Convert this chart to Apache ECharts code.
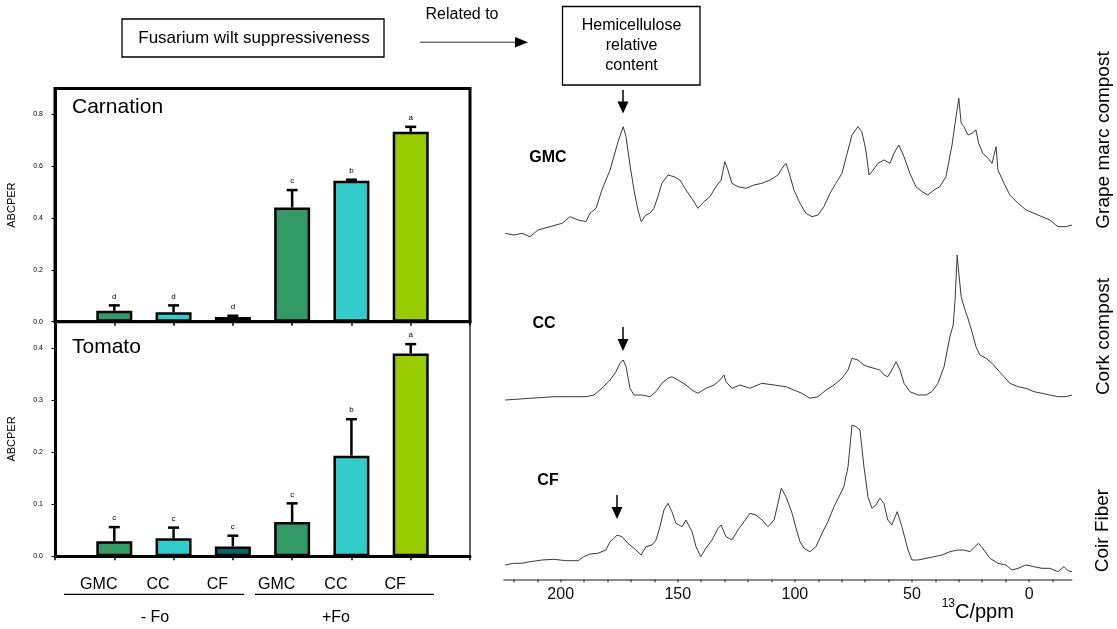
<!DOCTYPE html>
<html>
<head>
<meta charset="utf-8">
<script src="https://cdn.jsdelivr.net/npm/echarts@6/dist/echarts.min.js"></script>
<style>
html,body{margin:0;padding:0;background:#fff;}
#chart{width:1117px;height:629px;}
</style>
</head>
<body>
<div id="chart"></div>
<script>
// ---------- DATA ----------
const composts = ['GMC', 'CC', 'CF', 'GMC', 'CC', 'CF'];
const groupLabels = ['- Fo', '+Fo'];
const barColors = ['#339966', '#33CCCC', '#006666', '#339966', '#33CCCC', '#99CC00'];

const carnationMean = [0.042, 0.036, 0.018, 0.441, 0.544, 0.733];
const carnationErr = [0.021, 0.027, 0.005, 0.067, 0.004, 0.019];
const carnationLetters = ['d', 'd', 'd', 'c', 'b', 'a'];

const tomatoMean = [0.029, 0.0345, 0.019, 0.066, 0.193, 0.389];
const tomatoErr = [0.027, 0.0205, 0.0205, 0.0356, 0.070, 0.018];
const tomatoLetters = ['c', 'c', 'c', 'c', 'b', 'a'];

const carnationTicks = [0, 0.2, 0.4, 0.6, 0.8];
const tomatoTicks = [0, 0.1, 0.2, 0.3, 0.4];
const ppmLabels = [0, 50, 100, 150, 200];

const spectrumNames = ['GMC', 'CC', 'CF'];
const spectrumTitles = ['Grape marc compost', 'Cork compost', 'Coir Fiber'];

// [ppm, relative intensity]
const gmcSpectrum = [[223.7,41.7],[220.0,40],[216.5,41.7],[213.1,38.3],[209.7,45],[204.6,48.3],[199.4,51.7],[196.0,58.3],[192.6,55],[189.2,53.3],[187.5,61.7],[184.9,66.7],[182.4,85],[180.7,95],[178.9,105],[177.3,118.3],[175.5,133.3],[173.3,148.3],[172.1,138.3],[170.4,110],[168.7,85],[167.0,65],[165.6,53.3],[163.6,60],[161.9,61.7],[160.2,66.7],[158.5,78.3],[156.8,91.7],[154.2,100],[151.6,98.3],[149.1,95],[146.5,85],[144.0,76.7],[141.4,66.7],[138.8,73.3],[136.3,78.3],[133.7,88.3],[131.5,95],[129.9,113.3],[128.6,105],[126.9,91.7],[124.3,88.3],[120.9,86.7],[117.5,90],[114.1,91.7],[110.6,95],[107.2,100],[105.5,106.7],[103.8,111.7],[102.4,101.7],[100.4,85],[97.8,71.7],[95.3,61.7],[92.7,58.3],[90.1,60],[87.6,68.3],[85.0,81.7],[82.5,91.7],[79.9,101.7],[77.3,125],[75.6,140],[73.1,148.3],[71.4,143.3],[69.7,125],[68.3,100],[66.6,105],[64.5,111.7],[62.0,115],[59.4,111.7],[57.7,121.7],[55.6,130],[53.4,118.3],[50.9,101.7],[48.3,88.3],[45.7,83.3],[43.2,80],[40.6,85],[38.1,88.3],[35.5,98.3],[32.9,130],[31.6,151.7],[30.0,176.7],[29.0,151.7],[27.8,148.3],[26.1,140],[24.4,141.7],[22.7,145],[21.5,131.7],[19.8,121.7],[17.5,116.7],[15.8,111.7],[14.1,128.3],[13.3,105],[10.7,91.7],[8.2,80],[4.7,71.7],[1.3,65],[-2.1,61.7],[-5.5,58.3],[-8.9,55],[-12.3,48.3],[-15.8,48.3],[-18.3,50]];

const ccSpectrum = [[223.7,15],[213.1,16.7],[202.9,18.3],[196.0,18.3],[189.2,18.3],[185.8,20],[182.4,26.7],[178.9,35],[176.4,43.3],[174.7,51.7],[173.3,55],[172.1,48.3],[170.4,26.7],[168.7,20],[165.3,20],[161.9,18.3],[159.3,23.3],[156.8,31.7],[154.2,36.7],[152.5,38.3],[149.9,35],[146.5,30],[144.0,25],[141.4,21.7],[138.0,26.7],[134.5,30],[132.0,35],[130.3,40],[129.4,33.3],[126.9,26.7],[123.4,30],[119.2,26.7],[114.1,31.7],[108.9,30],[103.8,28.3],[100.4,25],[97.0,21.7],[93.6,16.7],[90.1,18.3],[86.7,25],[83.3,30],[79.9,36.7],[77.3,45],[75.6,56.7],[73.1,55],[70.5,50],[68.8,48.3],[66.2,46.7],[63.7,45],[61.9,40],[60.3,38.3],[58.6,45],[56.8,53.3],[55.1,45],[53.4,31.7],[50.9,23.3],[47.4,20],[44.0,20],[41.5,23.3],[38.9,31.7],[36.3,48.3],[33.8,78.3],[32.4,90],[31.6,115],[30.7,160],[30.0,141.7],[29.0,118.3],[27.8,108.3],[26.1,96.7],[24.4,83.3],[22.7,68.3],[21.0,60],[18.4,56.7],[15.8,51.7],[13.3,45],[10.7,38.3],[8.2,31.7],[4.7,28.3],[1.3,26.7],[-2.1,23.3],[-5.5,21.7],[-8.9,20],[-12.3,18.3],[-15.8,18.3],[-18.3,20]];

const cfSpectrum = [[223.7,10],[220.0,11.7],[216.5,11.7],[213.1,13.3],[208.0,15],[202.9,15.7],[197.8,14.3],[192.6,14.3],[190.1,18.3],[187.5,21],[184.1,21.7],[180.7,25],[178.9,33.3],[177.3,36.7],[175.9,40],[173.8,38.3],[171.3,31.7],[168.7,26.7],[165.6,20],[163.6,28.3],[161.0,30],[159.3,35],[157.6,48.3],[155.9,65],[154.2,71.7],[152.5,63.3],[150.8,51.7],[148.2,48.3],[146.5,55],[145.7,56.7],[143.9,43.3],[142.2,28.3],[140.2,18.3],[138.0,26.7],[135.4,35],[132.8,46.7],[131.5,50],[129.4,38.3],[126.9,35],[124.3,45],[121.7,53.3],[119.2,61.7],[116.6,60],[114.0,55],[111.5,48.3],[108.9,55],[107.2,71.7],[105.8,86.7],[103.8,78.3],[101.2,61.7],[99.5,46.7],[97.8,33.3],[96.1,26.7],[93.6,23.3],[91.0,28.3],[88.4,41.7],[85.9,53.3],[83.3,68.3],[80.8,80],[79.1,88.3],[77.3,108.3],[75.6,150],[73.9,148.3],[72.2,145],[70.5,108.3],[68.8,78.3],[67.1,66.7],[65.4,70],[63.7,76.7],[62.0,71.7],[60.3,55],[58.6,50],[56.3,63.3],[54.3,48.3],[51.7,25],[50.0,15],[47.4,15],[44.0,16.7],[40.6,18.3],[37.2,20],[33.8,23.3],[30.4,25],[27.8,25],[25.2,23.3],[23.2,28.3],[21.5,31.7],[19.3,25],[16.7,16.7],[13.3,11.7],[9.9,10],[7.3,5],[4.7,6.7],[1.3,10],[-2.1,8.3],[-5.5,6.7],[-8.9,6.7],[-12.3,3.3],[-14.9,8.3],[-16.6,4.3],[-18.3,3.3]];

// ---------- CHART ----------
const FONT = '"Liberation Sans", Arial, Helvetica, sans-serif';
const chart = echarts.init(document.getElementById('chart'), null, {renderer: 'canvas'});

const xPos = composts.map((c, i) => i + 1);

function barData(means) {
  return means.map((m, i) => ({value: [xPos[i], m], itemStyle: {color: barColors[i]}}));
}
function errData(means, errs) {
  return means.map((m, i) => [xPos[i], m, errs[i]]);
}
function errRenderer(letters) {
  return function (params, api) {
    const x = api.value(0), m = api.value(1), e = api.value(2);
    const p0 = api.coord([x, m]);
    const p1 = api.coord([x, m + e]);
    return {
      type: 'group',
      children: [
        {type: 'line', shape: {x1: p0[0], y1: p0[1], x2: p1[0], y2: p1[1]}, style: {stroke: '#000', lineWidth: 2.5}},
        {type: 'line', shape: {x1: p1[0] - 5.5, y1: p1[1], x2: p1[0] + 5.5, y2: p1[1]}, style: {stroke: '#000', lineWidth: 2.5}},
        {type: 'text', x: p1[0], y: p1[1] - 9, style: {text: letters[params.dataIndex], fontSize: 8, fontFamily: FONT, fill: '#000', align: 'center', verticalAlign: 'middle', textAlign: 'center', textVerticalAlign: 'middle'}}
      ]
    };
  };
}

function barYAxis(gi, max, interval, ticks) {
  return {
    gridIndex: gi, type: 'value', min: 0, max: max, interval: interval,
    name: 'ABCPER', nameLocation: 'middle', nameGap: 38, nameRotate: 90,
    nameTextStyle: {fontSize: 11, fontFamily: FONT, color: '#000'},
    axisLine: {show: true, lineStyle: {color: '#000', width: 3}},
    axisTick: {show: true, length: 3.5, lineStyle: {color: '#000', width: 1}},
    axisLabel: {fontSize: 7, fontFamily: FONT, color: '#000', margin: 12, showMaxLabel: false,
      formatter: v => ticks.some(t => Math.abs(t - v) < 1e-9) ? v.toFixed(1) : ''},
    splitLine: {show: false}
  };
}
function barXAxis(gi, showLabels) {
  return {
    gridIndex: gi, type: 'value', min: 0, max: 7, interval: 1,
    axisLine: {show: true, onZero: false, lineStyle: {color: '#000', width: 3}},
    axisTick: {show: true, length: 4, lineStyle: {color: '#000', width: 1.5}},
    axisLabel: showLabels ? {
      show: true, fontSize: 16, fontFamily: FONT, color: '#000', margin: 20,
      padding: [0, 31, 0, 0],
      formatter: v => (v >= 1 && v <= composts.length) ? composts[v - 1] : ''
    } : {show: false},
    splitLine: {show: false}
  };
}
const PPM_MIN = -18.2, PPM_MAX = 224.2;
function specXAxis(gi, show) {
  const tickVals = [];
  for (let v = -10; v <= 220; v += 10) tickVals.push(v);
  return {
    gridIndex: gi, type: 'value', inverse: true, min: PPM_MIN, max: PPM_MAX, show: show,
    axisLine: {show: true, onZero: false, lineStyle: {color: '#666', width: 1.5}},
    axisTick: {show: true, length: 3, customValues: tickVals, lineStyle: {color: '#555', width: 1.5}},
    axisLabel: {show: true, customValues: ppmLabels, fontSize: 16, fontFamily: FONT, color: '#111', margin: 7},
    splitLine: {show: false}
  };
}
function specYAxis(gi, min, max) {
  return {gridIndex: gi, type: 'value', min: min, max: max, show: false, splitLine: {show: false}};
}
function specSeries(idx, data) {
  return {
    type: 'line', xAxisIndex: idx, yAxisIndex: idx, data: data,
    showSymbol: false, symbol: 'none', smooth: false,
    lineStyle: {color: '#3a3a3a', width: 1}, animation: false
  };
}

function txt(x, y, text, size, opts) {
  opts = opts || {};
  return {
    type: 'text', x: x, y: y, rotation: opts.rotation || 0, silent: true,
    style: {
      text: text, fontSize: size, fontFamily: FONT, fontWeight: opts.weight || 'normal',
      fill: opts.fill || '#000',
      align: opts.align || 'center', textAlign: opts.align || 'center',
      verticalAlign: 'middle', textVerticalAlign: 'middle'
    }
  };
}
function downArrow(x, y1, y2) {
  return [
    {type: 'line', silent: true, shape: {x1: x, y1: y1, x2: x, y2: y2 - 8}, style: {stroke: '#000', lineWidth: 1.5}},
    {type: 'polygon', silent: true, shape: {points: [[x - 5.5, y2 - 12], [x + 5.5, y2 - 12], [x, y2]]}, style: {fill: '#000'}}
  ];
}

const graphics = [
  // banner
  {type: 'rect', silent: true, shape: {x: 122, y: 19, width: 262, height: 38}, style: {fill: '#fff', stroke: '#000', lineWidth: 1.3}},
  txt(254, 38, 'Fusarium wilt suppressiveness', 17),
  txt(462, 15, 'Related to', 16),
  {type: 'line', silent: true, shape: {x1: 420, y1: 42.3, x2: 518, y2: 42.3}, style: {stroke: '#777', lineWidth: 1.5}},
  {type: 'polygon', silent: true, shape: {points: [[515, 37], [528, 42.3], [515, 47.6]]}, style: {fill: '#000'}},
  {type: 'rect', silent: true, shape: {x: 562.5, y: 6.5, width: 137.5, height: 78.5}, style: {fill: '#fff', stroke: '#000', lineWidth: 1.3}},
  txt(631.5, 26, 'Hemicellulose', 16),
  txt(631.5, 46, 'relative', 16),
  txt(631.5, 66, 'content', 16),
  // panel titles
  txt(72, 107.5, 'Carnation', 21, {align: 'left'}),
  txt(72, 347, 'Tomato', 21, {align: 'left'}),
  // group lines and labels
  {type: 'line', silent: true, shape: {x1: 64, y1: 594.3, x2: 244, y2: 594.3}, style: {stroke: '#000', lineWidth: 1.3}},
  {type: 'line', silent: true, shape: {x1: 255, y1: 594.3, x2: 434, y2: 594.3}, style: {stroke: '#000', lineWidth: 1.3}},
  txt(155, 618, groupLabels[0], 16),
  txt(336, 618, groupLabels[1], 16),
  // spectra labels
  txt(548, 157.5, spectrumNames[0], 16, {weight: 'bold'}),
  txt(544, 323.5, spectrumNames[1], 16, {weight: 'bold'}),
  txt(548, 481, spectrumNames[2], 16, {weight: 'bold'}),
  ...downArrow(623, 90, 113.5),
  ...downArrow(623, 327, 351),
  ...downArrow(617, 495, 519),
  // right side titles
  txt(1104, 140, spectrumTitles[0], 19, {rotation: Math.PI / 2}),
  txt(1104, 336.5, spectrumTitles[1], 19, {rotation: Math.PI / 2}),
  txt(1103, 530.5, spectrumTitles[2], 19, {rotation: Math.PI / 2}),
  // axis name 13C/ppm
  txt(955, 604, '13', 12, {align: 'right'}),
  txt(955, 612, 'C/ppm', 20, {align: 'left'})
];

const option = {
  animation: false,
  backgroundColor: '#fff',
  textStyle: {fontFamily: FONT},
  grid: [
    {left: 55, top: 88.5, width: 415, height: 233.2, show: true, borderColor: '#000', borderWidth: 3, backgroundColor: 'transparent'},
    {left: 55, top: 321.7, width: 415, height: 234.6, show: true, borderColor: '#000', borderWidth: 1.2, backgroundColor: 'transparent'},
    {left: 504, right: 45.3, top: 85, bottom: 354},
    {left: 504, right: 45.3, top: 250, bottom: 214},
    {left: 504, right: 45.3, top: 400, bottom: 49.7}
  ],
  xAxis: [
    barXAxis(0, false),
    barXAxis(1, true),
    specXAxis(2, false),
    specXAxis(3, false),
    specXAxis(4, true)
  ],
  yAxis: [
    barYAxis(0, 0.9, 0.2, carnationTicks),
    barYAxis(1, 0.45, 0.1, tomatoTicks),
    specYAxis(2, 0, 190),
    specYAxis(3, 0, 165),
    specYAxis(4, -4.3, 175)
  ],
  series: [
    {type: 'bar', xAxisIndex: 0, yAxisIndex: 0, barWidth: 36, data: barData(carnationMean),
      itemStyle: {borderColor: '#000', borderWidth: 2.5}, z: 2},
    {type: 'custom', xAxisIndex: 0, yAxisIndex: 0, data: errData(carnationMean, carnationErr),
      renderItem: errRenderer(carnationLetters), z: 3},
    {type: 'bar', xAxisIndex: 1, yAxisIndex: 1, barWidth: 36, data: barData(tomatoMean),
      itemStyle: {borderColor: '#000', borderWidth: 2.5}, z: 2},
    {type: 'custom', xAxisIndex: 1, yAxisIndex: 1, data: errData(tomatoMean, tomatoErr),
      renderItem: errRenderer(tomatoLetters), z: 3},
    specSeries(2, gmcSpectrum),
    specSeries(3, ccSpectrum),
    specSeries(4, cfSpectrum)
  ],
  graphic: graphics
};
chart.setOption(option);
</script>
</body>
</html>
